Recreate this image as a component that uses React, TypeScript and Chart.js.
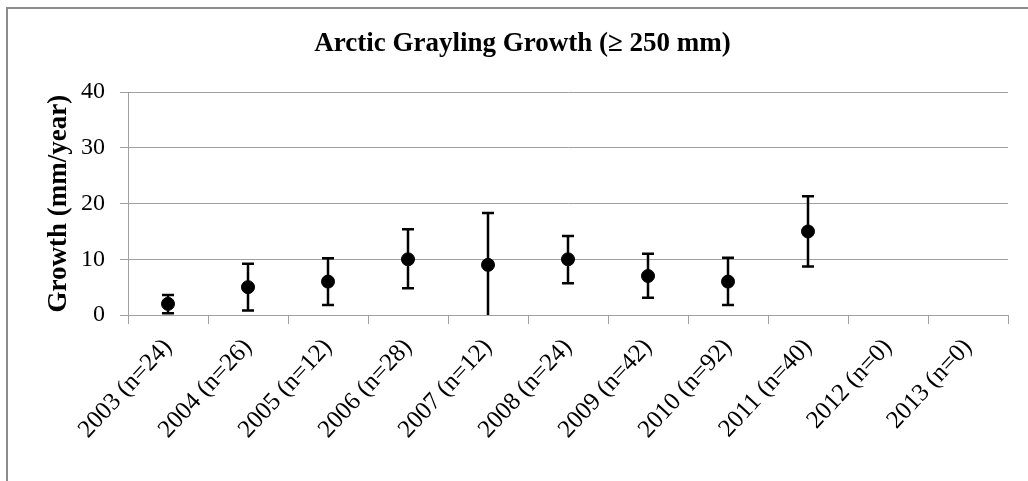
import React, { useEffect, useRef } from "react";
import { Chart, registerables } from "chart.js";

Chart.register(...registerables);

const TITLE = "Arctic Grayling Growth (≥ 250 mm)";
const Y_TITLE = "Growth (mm/year)";
const categories = [
  "2003 (n=24)",
  "2004 (n=26)",
  "2005 (n=12)",
  "2006 (n=28)",
  "2007 (n=12)",
  "2008 (n=24)",
  "2009 (n=42)",
  "2010 (n=92)",
  "2011 (n=40)",
  "2012 (n=0)",
  "2013 (n=0)",
];
const meanGrowth: (number | null)[] = [2, 5, 6, 10, 9, 10, 7, 6, 15, null, null];
const upperBound: (number | null)[] = [3.6, 9.2, 10.2, 15.4, 18.3, 14.2, 11.0, 10.3, 21.3, null, null];
const lowerBound: (number | null)[] = [0.3, 0.8, 1.8, 4.8, 0, 5.7, 3.1, 1.8, 8.7, null, null];
const yTicks = [0, 10, 20, 30, 40];

const FONT = "'Liberation Serif', 'Times New Roman', serif";
const GRID = "#a0a0a0";

const errorBarPlugin = {
  id: "errorBars",
  afterDatasetsDraw(chart: any) {
    const { ctx, scales } = chart;
    const x = scales.x;
    const y = scales.y;
    ctx.save();
    ctx.strokeStyle = "#000";
    ctx.lineWidth = 2.5;
    const cap = 6;
    meanGrowth.forEach((m, i) => {
      const hi = upperBound[i];
      const lo = lowerBound[i];
      if (m === null || hi === null || lo === null) return;
      const px = x.getPixelForValue(i);
      const pyHi = y.getPixelForValue(hi);
      const pyLo = y.getPixelForValue(lo);
      ctx.beginPath();
      ctx.moveTo(px, pyHi);
      ctx.lineTo(px, pyLo);
      ctx.moveTo(px - cap, pyHi);
      ctx.lineTo(px + cap, pyHi);
      if (lo > 0) {
        ctx.moveTo(px - cap, pyLo);
        ctx.lineTo(px + cap, pyLo);
      }
      ctx.stroke();
    });
    ctx.restore();
  },
};

export default function App() {
  const canvasRef = useRef<HTMLCanvasElement | null>(null);

  useEffect(() => {
    const canvas = canvasRef.current;
    if (!canvas) return;
    const chart = new Chart(canvas, {
      type: "line",
      data: {
        labels: categories,
        datasets: [
          {
            label: "Growth",
            data: meanGrowth,
            showLine: false,
            pointRadius: 6.5,
            pointHoverRadius: 6.5,
            pointBackgroundColor: "#000",
            pointBorderColor: "#000",
            borderColor: "#000",
            backgroundColor: "#000",
          },
        ],
      },
      plugins: [errorBarPlugin],
      options: {
        animation: false,
        responsive: false,
        devicePixelRatio: 1,
        layout: { padding: { left: 29, right: 29, top: 0, bottom: 0 } },
        plugins: {
          legend: { display: false },
          tooltip: { enabled: false },
          title: {
            display: true,
            text: TITLE,
            color: "#000",
            font: { family: FONT, size: 27, weight: "bold", lineHeight: 1.2 },
            padding: { top: 18.8, bottom: 32 },
          },
        },
        scales: {
          x: {
            type: "category",
            offset: true,
            afterFit: (scale: any) => {
              scale.height = 166;
            },
            grid: {
              display: true,
              offset: true,
              drawOnChartArea: false,
              drawTicks: true,
              tickLength: 9,
              color: GRID,
              lineWidth: 1,
            },
            border: { display: true, color: GRID, width: 1 },
            ticks: {
              autoSkip: false,
              maxRotation: 47,
              minRotation: 47,
              padding: 9,
              color: "#000",
              font: { family: FONT, size: 25 },
            },
          },
          y: {
            min: 0,
            max: 40,
            afterFit: (scale: any) => {
              scale.width = 91;
            },
            afterBuildTicks: (scale: any) => {
              scale.ticks = yTicks.map((v) => ({ value: v }));
            },
            grid: {
              color: GRID,
              lineWidth: 1,
              tickLength: 8,
              drawTicks: true,
            },
            border: { display: true, color: GRID, width: 1 },
            ticks: {
              padding: 15,
              color: "#000",
              font: { family: FONT, size: 24 },
            },
            title: {
              display: true,
              text: Y_TITLE,
              color: "#000",
              font: { family: FONT, size: 27, weight: "bold", lineHeight: 1.2 },
              padding: { top: 5.5, bottom: 0 },
            },
          },
        },
      },
    });
    return () => chart.destroy();
  }, []);

  return (
    <div
      style={{
        position: "fixed",
        left: 0,
        top: 0,
        width: "100vw",
        height: "100vh",
        overflow: "hidden",
        background: "#fff",
      }}
    >
      <div
        style={{
          position: "absolute",
          left: 6,
          top: 7,
          width: 1200,
          height: 700,
          borderLeft: "2px solid #8c8c8c",
          borderTop: "2px solid #8c8c8c",
          boxSizing: "border-box",
        }}
      />
      <canvas
        ref={canvasRef}
        width={1029}
        height={472}
        style={{ position: "absolute", left: 8, top: 9, width: 1029, height: 472 }}
      />
    </div>
  );
}
